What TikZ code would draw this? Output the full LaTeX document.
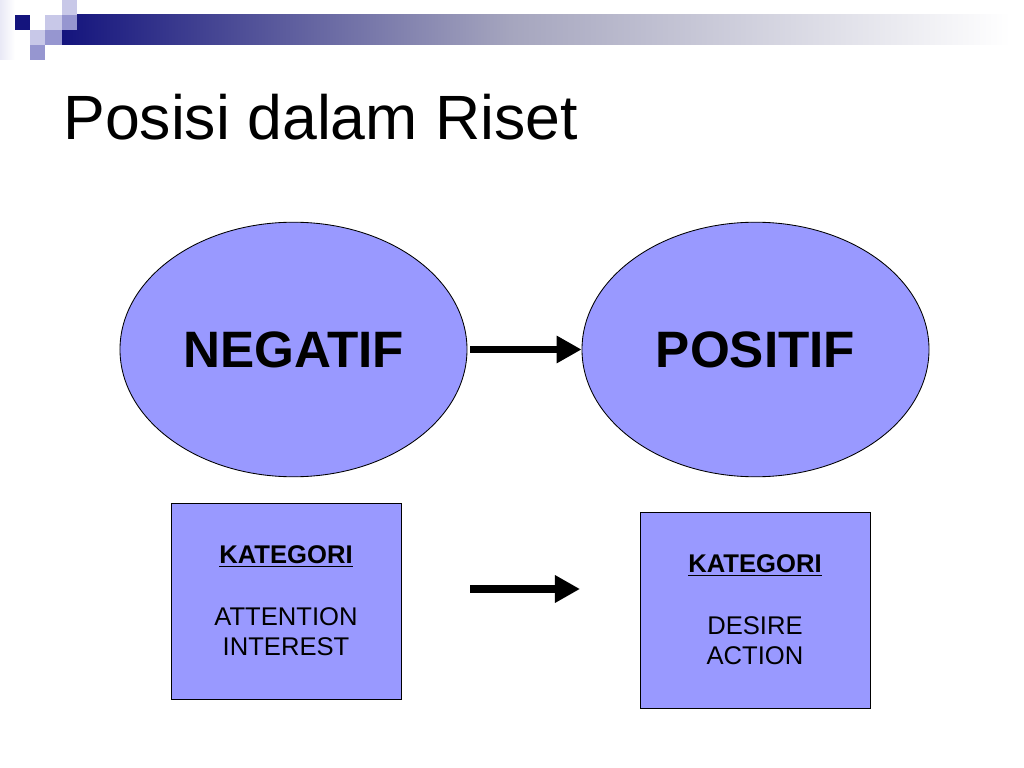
\documentclass[tikz,border=0pt]{standalone}
\usepackage{fontspec}
\setmainfont{Liberation Sans}
\usetikzlibrary{shapes.geometric,arrows.meta}
\definecolor{navy}{RGB}{20,20,125}
\definecolor{lav}{RGB}{200,200,232}
\definecolor{midlav}{RGB}{150,150,208}
\definecolor{bubble}{RGB}{153,153,255}
\definecolor{barmid}{RGB}{165,165,190}
\tikzset{
  oval/.style={ellipse,draw=black,line width=0.6pt,fill=bubble,inner sep=0pt,
    minimum width=244pt,minimum height=179pt,font=\fontsize{36}{42}\selectfont\bfseries},
  katbox/.style={rectangle,draw=black,line width=0.6pt,fill=bubble,inner sep=0pt,
    minimum width=161.7pt,minimum height=137.8pt,align=center,
    font=\fontsize{18}{21.5}\selectfont},
  bigarrow/.style={line width=5.6pt,-{Triangle[length=17.6pt,width=18.3pt]}}
}
\begin{document}
\begin{tikzpicture}[x=0.703125pt,y=-0.703125pt]
\useasboundingbox (0,0) rectangle (1024,768);
\fill[white] (0,0) rectangle (1024,768);
% header decoration
\shade[left color=lav!40,right color=white] (0,0) rectangle (15,60);
\shade[left color=navy,right color=barmid] (62,15) rectangle (510,45);
\shade[left color=barmid,right color=white] (509.5,15) rectangle (1010,45);
\fill[navy] (15,15) rectangle (30,30);
\fill[lav] (45,15) rectangle (62,30);
\fill[lav] (62,0) rectangle (77,15);
\fill[midlav] (62,15) rectangle (77,30);
\fill[lav] (30,30) rectangle (45,45);
\fill[midlav] (45,30) rectangle (62,45);
\fill[midlav] (30,45) rectangle (45,60);
% title
\node[anchor=base west,inner sep=0pt,font=\fontsize{44}{50}\selectfont] (title) at (63,140) {Posisi dalam Riset};
% ellipses
\node[oval] (neg) at (293.5,349.5) {NEGATIF};
\node[oval] (pos) at (755.5,349.5) {POSITIF};
% boxes
\node[katbox] (box1) at (286,601) {\bfseries\underline{KATEGORI}\\[21.5pt]ATTENTION\\INTEREST};
\node[katbox] (box2) at (755,610) {\bfseries\underline{KATEGORI}\\[21.5pt]DESIRE\\ACTION};
% arrows
\draw[bigarrow,shorten <=2pt] (neg.east) -- (pos.west);
\coordinate (b1) at (470,589);
\coordinate (b2) at (580,589);
\draw[bigarrow] (b1) -- (b2);
\end{tikzpicture}
\end{document}
